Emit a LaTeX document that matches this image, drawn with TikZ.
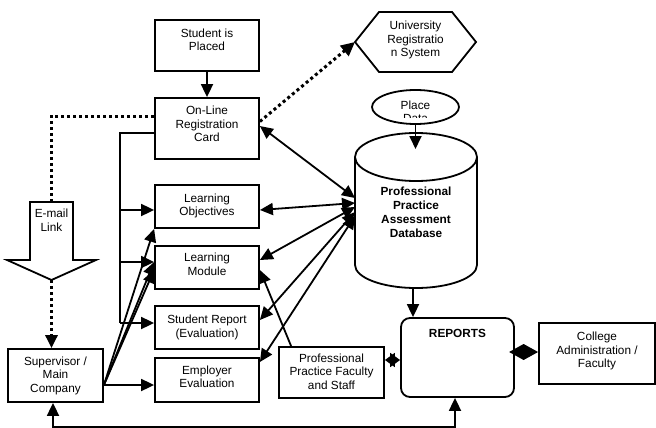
\documentclass[tikz,border=0pt]{standalone}
\usepackage{fontspec}
\setmainfont{Liberation Sans}
\usetikzlibrary{arrows.meta,shapes.geometric}
\newcommand{\padd}[1]{\rule[-#1pt]{0pt}{#1pt}}
\begin{document}
\begin{tikzpicture}[x=1pt,y=-1pt,
  every node/.style={font=\fontsize{11.8}{13.5}\selectfont},
  ln/.style={line width=1.8pt},
  box/.style={draw,line width=1.8pt,align=center,inner sep=0pt,minimum width=104pt,minimum height=#1},
  arr/.style={ln,-{Triangle[length=13pt,width=12pt]}},
  darr/.style={ln,{Triangle[length=13pt,width=12pt]}-{Triangle[length=13pt,width=12pt]}},
  dotline/.style={line width=3pt,dash pattern=on 3pt off 3pt},
  txt/.style={align=center,inner sep=0pt}]
\useasboundingbox (0,0) rectangle (656,428);

% boxes
\node[box=51pt] (sp) at (207,45.5) {Student is\\Placed\padd{12}};
\node[box=61pt] (reg) at (207,128.5) {On-Line\\Registration\\Card\padd{9}};
\node[box=43pt] (lo) at (207,206.5) {Learning\\Objectives\padd{4}};
\node[box=43pt] (lm) at (207,267.5) {Learning\\Module\padd{7}};
\node[box=43pt] (sr) at (207,327.5) {Student Report\\(Evaluation)\padd{3}};
\node[box=44pt] (ee) at (207,380) {Employer\\Evaluation\padd{7}};
\node[box=53pt,minimum width=95pt] (sup) at (55.5,375.5) {Supervisor /\\Main\\Company};
\node[box=51pt,minimum width=105pt] (ppf) at (331.5,372.5) {Professional\\Practice Faculty\\and Staff\padd{2}};
\node[box=61pt,minimum width=116pt] (col) at (597,353.5) {College\\Administration /\\Faculty\padd{7}};
\node[box=79pt,minimum width=113pt,rounded corners=9pt] (rep) at (457.5,357.5) {\bfseries REPORTS\padd{49}};

% hexagon
\draw[ln] (355,42) coordinate (hexL) -- (379,12) -- (452,12) -- (476,42) -- (452,72) -- (379,72) -- cycle;
\node[txt] (hex) at (415.5,42) {University\\Registratio\\n System\padd{6}};

% place ellipse
\node[draw,ln,ellipse,minimum width=87pt,minimum height=34pt,inner sep=0pt] (place) at (415.5,107) {};
\begin{scope}
\clip (372,90) rectangle (459,117);
\node[txt] (placetxt) at (415.5,111.75) {Place\\Data};
\end{scope}

% database
\draw[ln] (355,157) -- (355,265) arc[start angle=180,end angle=360,x radius=61pt,y radius=23pt] -- (477,157);
\draw[ln] (416,157) ellipse [x radius=61pt,y radius=24pt];
\node[txt,font=\fontsize{11.8}{14}\selectfont\bfseries] (dbtxt) at (416,212) {Professional\\Practice\\Assessment\\Database};
\coordinate (dbtop) at (415.5,149);
\coordinate (dbbot) at (413,288);
\coordinate (h1) at (355,198);
\coordinate (h2) at (355,203);
\coordinate (h3) at (355,207);
\coordinate (h4) at (355,212);
\coordinate (h5) at (355,216);

% e-mail block arrow
\draw[ln] (30,202) -- (73,202) -- (73,260) -- (96,260) -- (51.5,280) -- (7,260) -- (30,260) -- cycle;
\coordinate (emtop) at (51.5,202);
\coordinate (emtip) at (51.5,280);
\node[txt] (emtxt) at (51.5,220) {E-mail\\Link};

% connectors
\draw[arr] (sp) -- (reg);
\draw[dotline] ([yshift=12.5pt]reg.west) -| (emtop);
\draw[dotline,-{Triangle[length=14pt,width=13pt]}] ([yshift=7pt]reg.east) -- (hexL);
\draw[dotline,-{Triangle[length=13pt,width=12pt]}] (emtip) -- (emtip |- sup.north);

% trunk
\draw[ln] ([yshift=-4.5pt]reg.west) -| (120,323);
\coordinate (tk1) at (120,210);
\coordinate (tk2) at (120,262);
\coordinate (tk3) at (120,323);
\draw[arr] (tk1) -- (tk1 -| lo.west);
\draw[arr] (tk2) -- (tk2 -| lm.west);
\draw[arr] (tk3) -- (tk3 -| sr.west);

% supervisor fan
\coordinate (so) at ([yshift=-9.5pt]sup.east);
\draw[arr] (so) -- (lo.south west);
\draw[arr] (so) -- ([yshift=5.5pt]lm.west);
\draw[arr] (so) -- ([yshift=-2.5pt]lm.west);
\draw[arr] (so) -- (so -| ee.west);

% database hub
\draw[darr] ([yshift=2.5pt]reg.east) -- (h1);
\draw[darr] ([yshift=-3.5pt]lo.east) -- (h2);
\draw[darr] ([yshift=7.5pt]lm.east) -- (h3);
\draw[darr] ([yshift=7.5pt]sr.east) -- (h4);
\draw[darr] ([yshift=18pt]ee.east) -- (h5);

\draw[arr] ([xshift=13pt]ppf.north west) -- ([yshift=-2.5pt]lm.east);
\coordinate (pr) at ([yshift=12.5pt]ppf.east);
\draw[ln,{Triangle[length=10pt,width=14pt]}-{Triangle[length=10pt,width=14pt]}] (pr) -- (pr -| rep.west);
\draw[arr] (dbbot) -- (dbbot |- rep.north);
\draw[arr] (place.south) -- (dbtop);
\draw[ln,-{Diamond[length=29pt,width=16pt]}] ([yshift=5.5pt]rep.east) -- ([yshift=5.5pt]rep.east -| col.west);
\draw[darr] ([xshift=-2.5pt]sup.south) -- ++(0,24) -| ([xshift=-2.5pt]rep.south);
\end{tikzpicture}
\end{document}
